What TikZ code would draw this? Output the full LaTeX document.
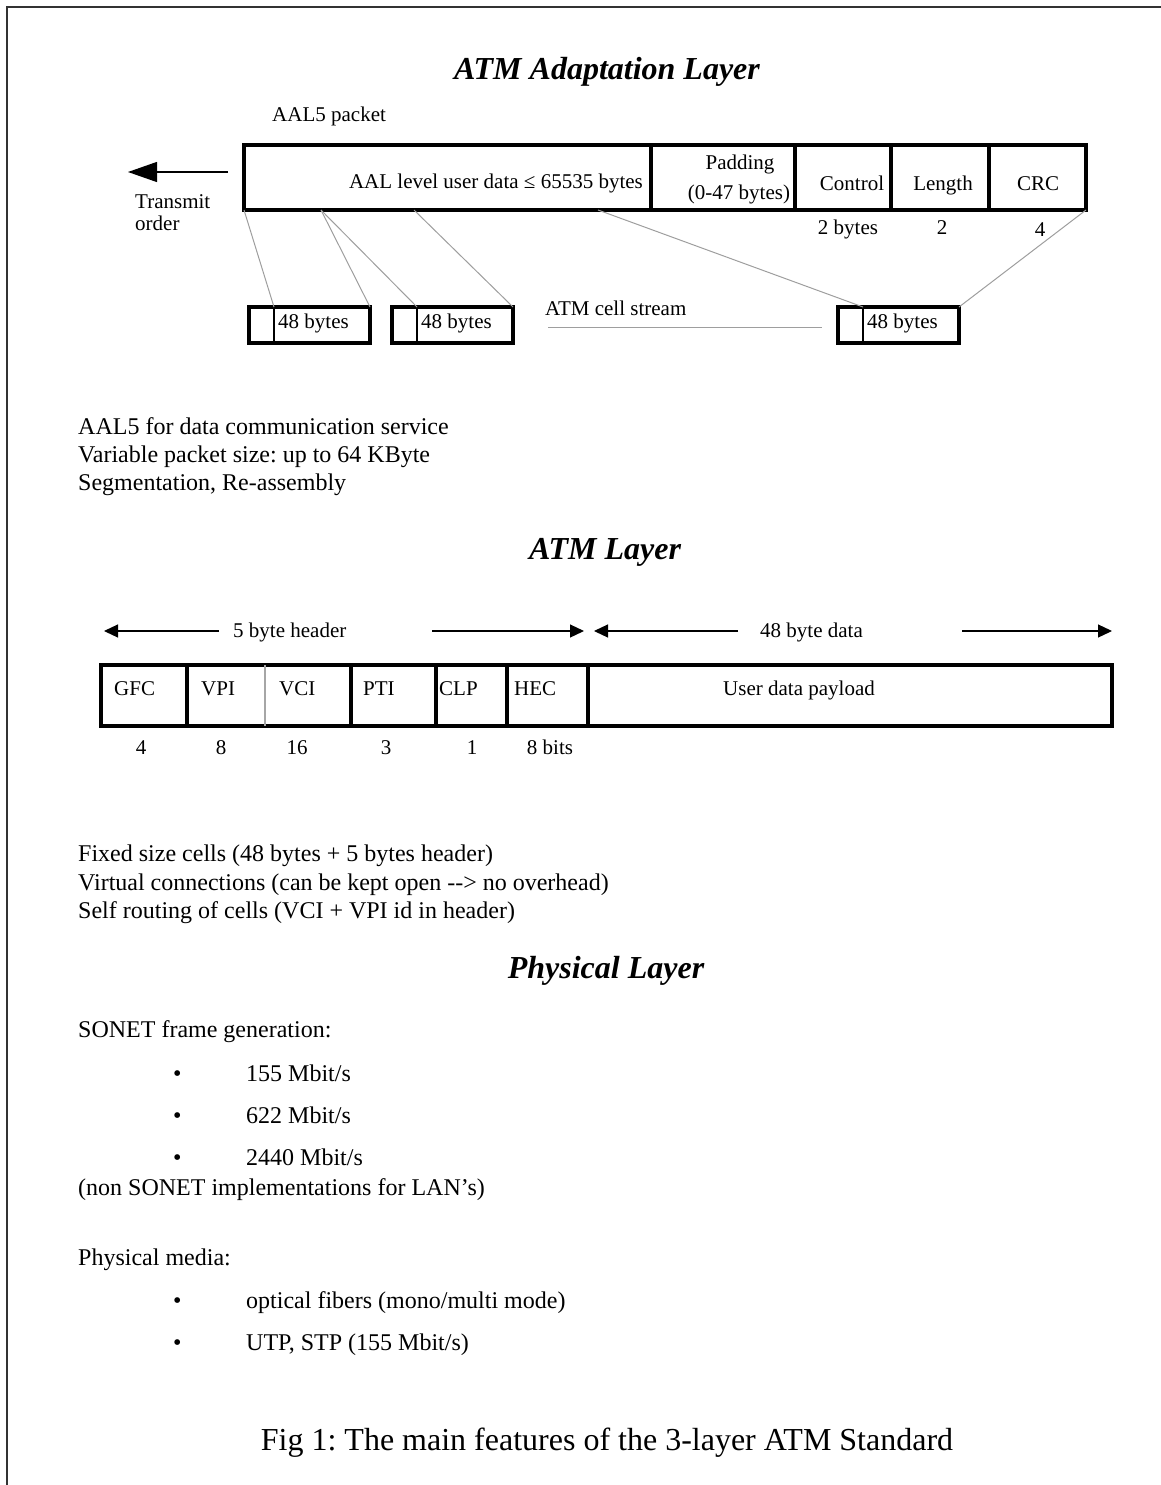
\documentclass[tikz,border=0pt]{standalone}
\usepackage{fontspec}
\setmainfont{Liberation Serif}
\usetikzlibrary{arrows.meta}
\frenchspacing
\begin{document}
\begin{tikzpicture}[x=1pt,y=-1pt,
  body/.style={font=\fontsize{24}{28}\selectfont, inner sep=0pt, anchor=base west},
  lbl/.style={font=\fontsize{21}{24}\selectfont, inner sep=0pt},
  ttl/.style={font=\fontsize{32}{36}\selectfont\bfseries\itshape, inner sep=0pt, anchor=base},
  field/.style={draw, line width=4pt, minimum height=65pt, inner sep=0pt, outer sep=0pt},
  cellbox/.style={draw, line width=4pt, minimum height=36pt, minimum width=121pt, inner sep=0pt, outer sep=0pt},
  atmfield/.style={draw, line width=4pt, minimum height=61pt, inner sep=0pt, outer sep=0pt},
  seg/.style={draw=black!38, line width=1pt},
  celldiv/.style={line width=1.3pt},
  frameline/.style={draw=black!80, line width=2pt},
  dimarrow/.style={-{Triangle[length=14pt,width=13pt]}, line width=1.2pt},
  bigarrow/.style={-{Triangle[length=29pt,width=20pt]}, line width=1.3pt},
]
\useasboundingbox (0,0) rectangle (1161,1485);
% frame
\coordinate (fA) at (7,1490);
\coordinate (fB) at (7,7.5);
\coordinate (fC) at (1170,7.5);
\draw[frameline] (fA) -- (fB) -- (fC);

% ---------------- ATM Adaptation Layer ----------------
\node[ttl] (t1) at (607,80) {ATM Adaptation Layer};
\node[lbl, anchor=base west] (aalpk) at (272,122) {AAL5 packet};

\node[field, minimum width=407pt] (pk1) at (447.5,177.5) {};
\node[field, minimum width=144pt] (pk2) at (723,177.5) {};
\node[field, minimum width=96pt]  (pk3) at (843,177.5) {};
\node[field, minimum width=98pt]  (pk4) at (940,177.5) {};
\node[field, minimum width=97pt]  (pk5) at (1037.5,177.5) {};

\node[lbl, anchor=base east] (ud) at (643,188) {AAL level user data ≤ 65535 bytes};
\node[lbl, anchor=base] (pad1) at (740,169) {Padding};
\node[lbl, anchor=base] (pad2) at (739,199) {(0-47 bytes)};
\node[lbl, anchor=base] (ctl) at (852,190) {Control};
\node[lbl, anchor=base] (len) at (943,190) {Length};
\node[lbl, anchor=base] (crc) at (1038,190) {CRC};
\node[lbl, anchor=base] (ctlb) at (848,234) {2 bytes};
\node[lbl, anchor=base] (lenb) at (942,234) {2};
\node[lbl, anchor=base] (crcb) at (1040,236) {4};

\coordinate (tS) at (228,172);
\coordinate (tE) at (128,172);
\draw[bigarrow] (tS) -- (tE);
\node[lbl, anchor=base west] (tr1) at (135,208) {Transmit};
\node[lbl, anchor=base west] (tr2) at (135,230) {order};

% cells
\node[cellbox] (cell1) at (309.5,325) {};
\node[cellbox] (cell2) at (452.5,325) {};
\node[cellbox] (cell3) at (898.5,325) {};
\foreach \c in {cell1,cell2,cell3}{
  \coordinate (\c d) at ([xshift=25pt]\c.north west);
  \coordinate (\c b) at ([xshift=25pt]\c.south west);
  \draw[celldiv] (\c d) -- (\c b);
  \node[lbl, anchor=base west] at ([xshift=29pt,yshift=-3pt]\c.west) {48 bytes};
}

% segmentation lines
\coordinate (p0) at (pk1.south west);
\coordinate (p1) at ([xshift=77pt]pk1.south west);
\coordinate (p2) at ([xshift=170pt]pk1.south west);
\coordinate (p3) at ([xshift=354pt]pk1.south west);
\coordinate (p4) at (pk5.south east);
\draw[seg] (p0) -- (cell1d);
\draw[seg] (p1) -- (cell1.north east);
\draw[seg] (p1) -- (cell2d);
\draw[seg] (p2) -- (cell2.north east);
\draw[seg] (p3) -- (cell3d);
\draw[seg] (p4) -- (cell3.north east);

\node[lbl, anchor=base west] (cs) at (545,315) {ATM cell stream};
\coordinate (csA) at (548,327);
\coordinate (csB) at (822,327);
\draw[seg] (csA) -- (csB);

\node[body] (a1) at (78,434) {AAL5 for data communication service};
\node[body] (a2) at (78,462) {Variable packet size: up to 64 KByte};
\node[body] (a3) at (78,490) {Segmentation, Re-assembly};

% ---------------- ATM Layer ----------------
\node[ttl] (t2) at (605,559) {ATM Layer};

\coordinate (h1) at (219,631);
\coordinate (h0) at (104,631);
\coordinate (h2) at (432,631);
\coordinate (h3) at (584,631);
\draw[dimarrow] (h1) -- (h0);
\draw[dimarrow] (h2) -- (h3);
\node[lbl, anchor=base west] (hh) at (233,637) {5 byte header};
\coordinate (d1) at (738,631);
\coordinate (d0) at (594,631);
\coordinate (d2) at (962,631);
\coordinate (d3) at (1112,631);
\draw[dimarrow] (d1) -- (d0);
\draw[dimarrow] (d2) -- (d3);
\node[lbl, anchor=base west] (dd) at (760,637) {48 byte data};

\node[atmfield, minimum width=86pt]  (gfc) at (144,695.5) {};
\node[atmfield, minimum width=164pt] (vpc) at (269,695.5) {};
\node[atmfield, minimum width=85pt]  (pti) at (393.5,695.5) {};
\node[atmfield, minimum width=71pt]  (clp) at (471.5,695.5) {};
\node[atmfield, minimum width=81pt]  (hec) at (547.5,695.5) {};
\node[atmfield, minimum width=524pt] (pay) at (850,695.5) {};
\coordinate (vA) at ([xshift=78pt]vpc.north west);
\coordinate (vB) at ([xshift=78pt]vpc.south west);
\draw[draw=black!35, line width=1.3pt] (vA) -- (vB);

\node[lbl, anchor=base west] (lg) at (114,695) {GFC};
\node[lbl, anchor=base west] (lvp) at (201,695) {VPI};
\node[lbl, anchor=base west] (lvc) at (279,695) {VCI};
\node[lbl, anchor=base west] (lpt) at (363,695) {PTI};
\node[lbl, anchor=base west] (lcl) at (439,695) {CLP};
\node[lbl, anchor=base west] (lhe) at (514,695) {HEC};
\node[lbl, anchor=base] (lpa) at (799,695) {User data payload};

\node[lbl, anchor=base] (n1) at (141,754) {4};
\node[lbl, anchor=base] (n2) at (221,754) {8};
\node[lbl, anchor=base] (n3) at (297,754) {16};
\node[lbl, anchor=base] (n4) at (386,754) {3};
\node[lbl, anchor=base] (n5) at (472,754) {1};
\node[lbl, anchor=base] (n6) at (550,754) {8 bits};

\node[body] (b1) at (78,861) {Fixed size cells (48 bytes + 5 bytes header)};
\node[body] (b2) at (78,890) {Virtual connections (can be kept open -{}-> no overhead)};
\node[body] (b3) at (78,918) {Self routing of cells (VCI + VPI id in header)};

% ---------------- Physical Layer ----------------
\node[ttl] (t3) at (606,978) {Physical Layer};
\node[body] (s0) at (78,1037) {SONET frame generation:};
\node[body] (s1b) at (173,1081) {•};
\node[body] (s1) at (246,1081) {155 Mbit/s};
\node[body] (s2b) at (173,1123) {•};
\node[body] (s2) at (246,1123) {622 Mbit/s};
\node[body] (s3b) at (173,1165) {•};
\node[body] (s3) at (246,1165) {2440 Mbit/s};
\node[body] (s4) at (78,1195) {(non SONET implementations for LAN’s)};
\node[body] (m0) at (78,1265) {Physical media:};
\node[body] (m1b) at (173,1308) {•};
\node[body] (m1) at (246,1308) {optical fibers (mono/multi mode)};
\node[body] (m2b) at (173,1350) {•};
\node[body] (m2) at (246,1350) {UTP, STP (155 Mbit/s)};

\node[font=\fontsize{32}{36}\selectfont, inner sep=0pt, anchor=base] (cap) at (607,1450) {Fig 1: The main features of the 3-layer ATM Standard};
\end{tikzpicture}
\end{document}
